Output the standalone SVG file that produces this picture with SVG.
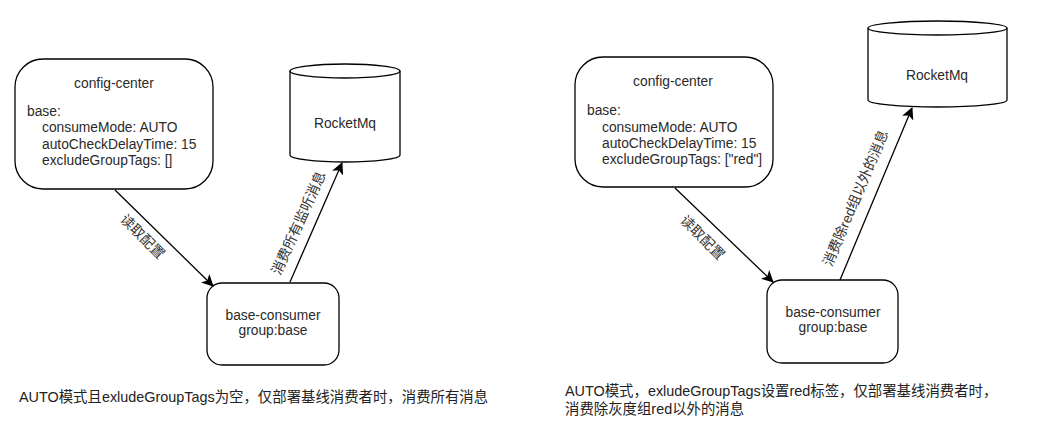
<svg xmlns="http://www.w3.org/2000/svg" width="1046" height="444" viewBox="0 0 1046 444">
<defs>
<style>
.box{fill:#fff;stroke:#000;stroke-width:1.3}
.t{font-family:"Liberation Sans",Arial,"Noto Sans CJK SC",sans-serif;font-size:13.8px;fill:#2a2a2a}
.c{text-anchor:middle}
.lbl{font-family:"Liberation Sans",Arial,"Noto Sans CJK SC",sans-serif;font-size:14px;fill:#333;text-anchor:middle}
.note{font-family:"Liberation Sans",Arial,"Noto Sans CJK SC",sans-serif;font-size:14.4px;fill:#222}
.edge{fill:none;stroke:#000;stroke-width:1.3}
</style>
<marker id="arr" viewBox="0 0 12 12" refX="11" refY="6" markerWidth="12" markerHeight="12" markerUnits="userSpaceOnUse" orient="auto">
<path d="M0,0 L12,6 L0,12 L3,6 Z" fill="#000"/>
</marker>
</defs>
<rect width="1046" height="444" fill="#fff"/>

<g id="left-config">
<rect class="box" x="15" y="59" width="198" height="130" rx="28" ry="28"/>
<text class="t c" x="114" y="88">config-center</text>
<text class="t" x="27" y="116">base:</text>
<text class="t" x="42" y="132">consumeMode: AUTO</text>
<text class="t" x="42" y="149">autoCheckDelayTime: 15</text>
<text class="t" x="42" y="165">excludeGroupTags: []</text>
</g>

<g id="left-consumer">
<rect class="box" x="207" y="283" width="132" height="82" rx="15" ry="15"/>
<text class="t c" x="273" y="320">base-consumer</text>
<text class="t c" x="273" y="335">group:base</text>
</g>

<g id="left-mq">
<path class="box" d="M290,71 L290,155 A55,7 0 0 0 400,155 L400,71"/>
<ellipse class="box" cx="345" cy="71" rx="55" ry="7"/>
<text class="t c" x="345" y="128">RocketMq</text>
</g>

<g id="right-config">
<rect class="box" x="575" y="57" width="198" height="130" rx="28" ry="28"/>
<text class="t c" x="673" y="86">config-center</text>
<text class="t" x="587" y="115">base:</text>
<text class="t" x="602" y="132">consumeMode: AUTO</text>
<text class="t" x="602" y="148">autoCheckDelayTime: 15</text>
<text class="t" x="602" y="164">excludeGroupTags: ["red"]</text>
</g>

<g id="right-consumer">
<rect class="box" x="767" y="280" width="131" height="83" rx="15" ry="15"/>
<text class="t c" x="833" y="317">base-consumer</text>
<text class="t c" x="833" y="332">group:base</text>
</g>

<g id="right-mq">
<path class="box" d="M868,28 L868,100 A69.5,7 0 0 0 1007,100 L1007,28"/>
<ellipse class="box" cx="937.5" cy="28" rx="69.5" ry="7"/>
<text class="t c" x="937" y="80">RocketMq</text>
</g>

<g id="connectors">
<line class="edge" x1="115" y1="190" x2="213" y2="286" marker-end="url(#arr)"/>
<line class="edge" x1="290" y1="282" x2="342" y2="163" marker-end="url(#arr)"/>
<line class="edge" x1="675" y1="188" x2="773" y2="282" marker-end="url(#arr)"/>
<line class="edge" x1="840" y1="280" x2="912" y2="108" marker-end="url(#arr)"/>
<text class="lbl" transform="translate(139,240) rotate(45)">读取配置</text>
<text class="lbl" transform="translate(303,225) rotate(-65.7)">消费所有监听消息</text>
<text class="lbl" transform="translate(699,241) rotate(45)">读取配置</text>
<text class="lbl" transform="translate(860,200) rotate(-67)">消费除red组以外的消息</text>
</g>

<g id="notes">
<text class="note" x="19" y="402">AUTO模式且exludeGroupTags为空，仅部署基线消费者时，消费所有消息</text>
<text class="note" x="565" y="396">AUTO模式，exludeGroupTags设置red标签，仅部署基线消费者时，</text>
<text class="note" x="565" y="414">消费除灰度组red以外的消息</text>
</g>
</svg>
